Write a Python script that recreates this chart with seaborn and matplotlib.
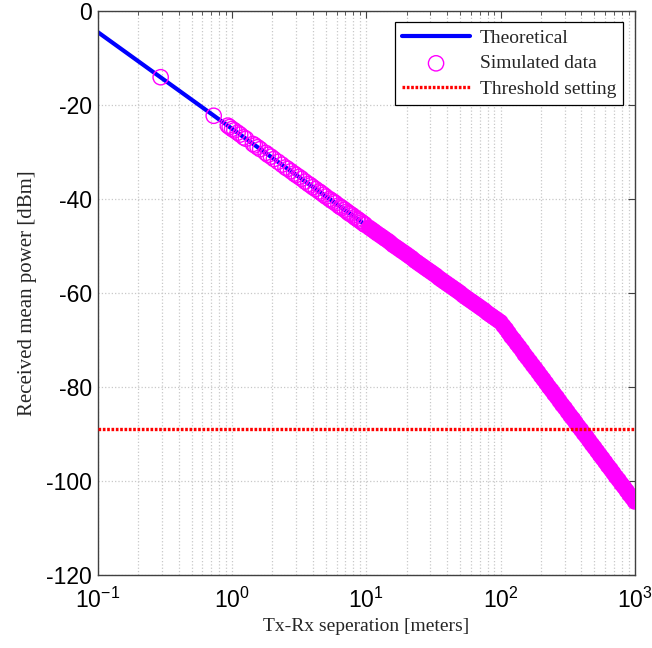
import matplotlib

matplotlib.use("Agg")
import matplotlib.pyplot as plt
import seaborn as sns

# theoretical path-loss curve (break point at 100 m)
theory_dist = [0.1, 100.0, 1000.0]
theory_power = [-4.5, -66.2, -104.4]

# simulated samples, short range (sparse)
sim_dist_near = [
    0.294, 0.73, 0.93, 0.96, 1.0, 1.04, 1.1, 1.15, 1.22, 1.27, 1.43, 1.48,
    1.55, 1.62, 1.78, 1.85, 1.95, 2.05, 2.2, 2.35, 2.5, 2.6, 2.75, 2.9, 3.0,
    3.15, 3.3, 3.5, 3.7, 3.85, 4.0, 4.2, 4.45, 4.6, 4.8, 5.0, 5.3, 5.5, 5.7,
    5.9, 6.2, 6.4, 6.6, 6.9, 7.2, 7.4, 7.6, 7.9, 8.2, 8.5, 8.7, 9.0, 9.3,
    9.6, 9.8,
]
sim_power_near = [
    -14.1, -22.3, -24.4, -24.7, -25.1, -25.4, -25.9, -26.3, -26.9, -27.2,
    -28.3, -28.6, -29.0, -29.4, -30.2, -30.6, -31.0, -31.5, -32.1, -32.7,
    -33.3, -33.6, -34.1, -34.6, -34.9, -35.3, -35.7, -36.3, -36.8, -37.1,
    -37.5, -37.9, -38.4, -38.7, -39.1, -39.5, -40.0, -40.3, -40.6, -40.9,
    -41.4, -41.7, -41.9, -42.3, -42.7, -43.0, -43.2, -43.5, -43.9, -44.2,
    -44.4, -44.7, -45.0, -45.3, -45.5,
]

# simulated samples, long range (dense band)
sim_dist_far = [
    10.5, 11.0, 11.5, 12.0, 12.6, 13.2, 13.8, 14.5, 15.1, 15.8, 16.6, 17.4,
    18.2, 19.1, 20.0, 20.9, 21.9, 22.9, 24.0, 25.1, 26.3, 27.5, 28.8, 30.2,
    31.6, 33.1, 34.7, 36.3, 38.0, 39.8, 41.7, 43.7, 45.7, 47.9, 50.1, 52.5,
    55.0, 57.5, 60.3, 63.1, 66.1, 69.2, 72.4, 75.9, 79.4, 83.2, 87.1, 91.2,
    95.5, 100.0,
    105, 110, 115, 120, 126, 132, 138, 145, 151, 158, 166, 174, 182, 191,
    200, 209, 219, 229, 240, 251, 263, 275, 288, 302, 316, 331, 347, 363,
    380, 398, 417, 437, 457, 479, 501, 525, 550, 575, 603, 631, 661, 692,
    724, 759, 794, 832, 871, 912, 955, 1000,
]
sim_power_far = [
    -46.1, -46.5, -46.9, -47.3, -47.7, -48.1, -48.5, -48.9, -49.3, -49.8,
    -50.2, -50.6, -51.0, -51.4, -51.8, -52.2, -52.6, -53.1, -53.5, -53.9,
    -54.3, -54.7, -55.1, -55.5, -55.9, -56.3, -56.8, -57.2, -57.6, -58.0,
    -58.4, -58.8, -59.2, -59.6, -60.0, -60.5, -60.9, -61.3, -61.7, -62.1,
    -62.5, -62.9, -63.3, -63.7, -64.2, -64.6, -65.0, -65.4, -65.8, -66.2,
    -67.0, -67.7, -68.5, -69.3, -70.0, -70.8, -71.5, -72.3, -73.1, -73.8,
    -74.6, -75.4, -76.1, -76.9, -77.7, -78.4, -79.2, -80.0, -80.7, -81.5,
    -82.2, -83.0, -83.8, -84.5, -85.3, -86.1, -86.8, -87.6, -88.4, -89.1,
    -89.9, -90.6, -91.4, -92.2, -92.9, -93.7, -94.5, -95.2, -96.0, -96.8,
    -97.5, -98.3, -99.1, -99.8, -100.6, -101.3, -102.1, -102.9, -103.6, -104.4,
]

threshold_dbm = -89.0

y_ticks = [-120, -100, -80, -60, -40, -20, 0]


def main() -> None:
    sns.set_theme(style="white")
    plt.rcParams["font.family"] = ["Liberation Sans", "DejaVu Sans"]
    plt.rcParams["mathtext.default"] = "regular"
    plt.rcParams["axes.unicode_minus"] = False

    fig = plt.figure(figsize=(6.52, 6.48), dpi=100)
    ax = fig.add_axes([0.150, 0.1127, 0.8236, 0.8704])

    sns.lineplot(x=theory_dist, y=theory_power, ax=ax, color="#0000ff", linewidth=3.0,
                 label="Theoretical", zorder=2)
    sns.scatterplot(x=sim_dist_near, y=sim_power_near, ax=ax, marker="o", s=121,
                    facecolor="none", edgecolor="#ff00ff", linewidth=1.0,
                    label="Simulated data", zorder=3)
    sns.scatterplot(x=sim_dist_far, y=sim_power_far, ax=ax, marker="o", s=68,
                    facecolor="none", edgecolor="#ff00ff", linewidth=3.4,
                    zorder=3)
    ax.axhline(threshold_dbm, color="#ff0000", linewidth=2.4, linestyle=(0, (0.8, 0.5)),
               label="Threshold setting", zorder=4)

    ax.set_xscale("log")
    ax.set_xlim(0.1, 1000)
    ax.set_ylim(-120, 0)
    ax.set_yticks(y_ticks)

    ax.grid(True, which="major", axis="both", color="#c8c8c8", linestyle=":", linewidth=0.9)
    ax.grid(True, which="minor", axis="x", color="#c8c8c8", linestyle=":", linewidth=0.9)

    ax.tick_params(which="both", direction="in", top=True, right=True, labelsize=16.5,
                   colors="#404040", labelcolor="black")
    ax.tick_params(which="major", length=5, width=0.8)
    ax.tick_params(which="minor", length=3, width=0.6)
    ax.tick_params(axis="y", which="major", pad=4)
    ax.tick_params(axis="x", which="major", pad=9)
    for spine in ax.spines.values():
        spine.set_color("#404040")
        spine.set_linewidth(1.0)

    ax.set_xlabel("Tx-Rx seperation [meters]", family="Liberation Serif", fontsize=14, labelpad=4)
    ax.set_ylabel("Received mean power [dBm]", family="Liberation Serif", fontsize=15, labelpad=7)

    leg = ax.legend(loc="upper right", bbox_to_anchor=(0.978, 0.98), borderaxespad=0,
                    frameon=True, fancybox=False, edgecolor="black", framealpha=1,
                    prop={"family": "Liberation Serif", "size": 14}, handlelength=3.5,
                    handletextpad=0.5, labelspacing=0.42, borderpad=0.35)
    leg.get_frame().set_linewidth(0.9)

    fig.savefig("out.png", dpi=100)
    plt.close(fig)


if __name__ == "__main__":
    main()
